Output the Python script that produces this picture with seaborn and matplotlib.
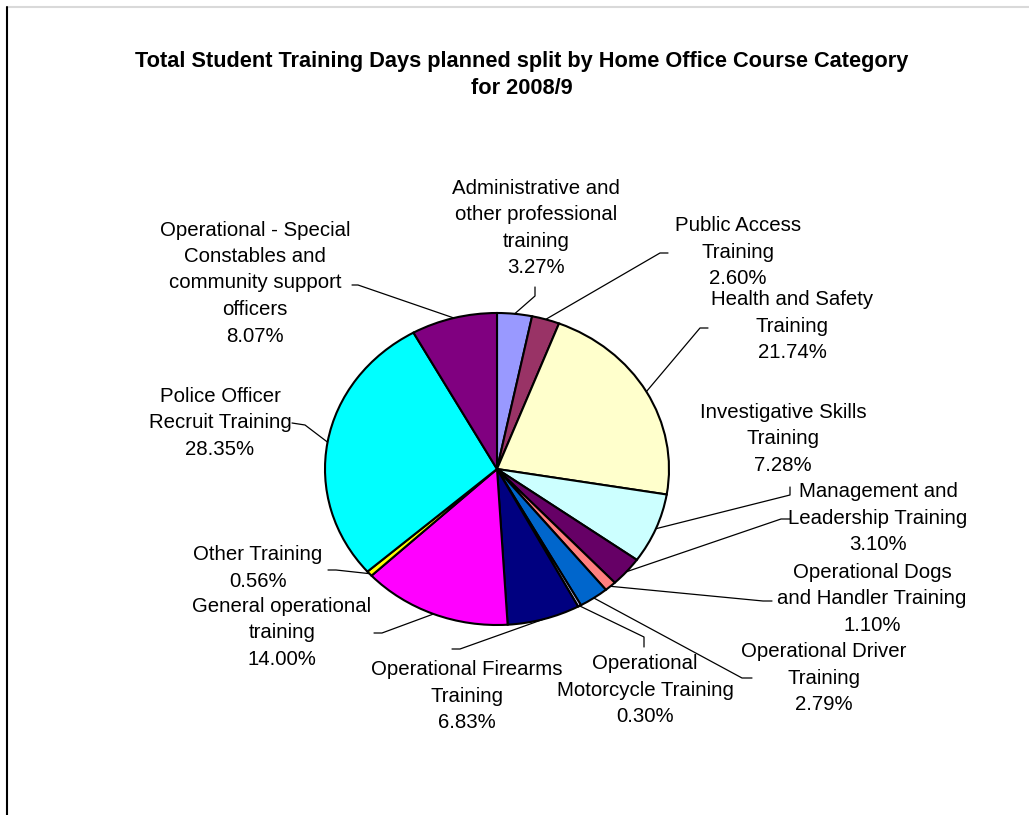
import numpy as np
import matplotlib
matplotlib.use("Agg")
import matplotlib.pyplot as plt
import seaborn as sns
from matplotlib.lines import Line2D

# --- data -------------------------------------------------------------
categories = [
    "Administrative and\nother professional\ntraining",
    "Public Access\nTraining",
    "Health and Safety\nTraining",
    "Investigative Skills\nTraining",
    "Management and\nLeadership Training",
    "Operational Dogs\nand Handler Training",
    "Operational Driver\nTraining",
    "Operational\nMotorcycle Training",
    "Operational Firearms\nTraining",
    "General operational\ntraining",
    "Other Training",
    "Police Officer\nRecruit Training",
    "Operational - Special\nConstables and\ncommunity support\nofficers",
]
shares = [3.27, 2.60, 21.74, 7.28, 3.10, 1.10, 2.79, 0.30, 6.83, 14.00, 0.56, 28.35, 8.07]
colors = ["#9999FF", "#993366", "#FFFFCC", "#CCFFFF", "#660066", "#FF8080",
          "#0066CC", "#CCCCFF", "#000080", "#FF00FF", "#FFFF00", "#00FFFF", "#800080"]

# --- layout (pixels, origin top-left) ---------------------------------
W, H = 1029, 815
label_xy = [(536, 228), (738, 252), (792, 326), (783, 439), (878, 518), (872, 599),
            (824, 678), (645, 690), (467, 696), (282, 633), (258, 568), (220, 423),
            (255, 283)]
# leader line: start near label, elbow, then to the slice edge
leader_pts = [((535, 287), (535, 296)), ((668, 253), (660, 253)), ((708, 328), (700, 328)),
              ((790, 487), (790, 495)), ((790, 519), (781, 519)), ((772, 601), (763, 601)),
              ((752, 678), (742, 678)), ((644, 647), (644, 637)), ((452, 649), (460, 649)),
              ((374, 633), (382, 633)), ((328, 570), (336, 570)), ((292, 423), (305, 425)),
              ((352, 285), (358, 285))]
cx, cy, rx, ry = 497, 469, 172, 156

sns.set_theme(style="white")
plt.rcParams["font.family"] = ["Liberation Sans", "DejaVu Sans"]

fig = plt.figure(figsize=(W / 100, H / 100), dpi=100)
fig.patch.set_facecolor("white")


def fx(x, y):
    return x / W, 1 - y / H


ax = fig.add_axes([(cx - rx) / W, (H - cy - ry) / H, 2 * rx / W, 2 * ry / H])
wedges, _ = ax.pie(shares, colors=colors, startangle=90, counterclock=False,
                   radius=1.0, wedgeprops=dict(edgecolor="black", linewidth=1.5))
ax.set_aspect("auto")
ax.set_xlim(-1, 1)
ax.set_ylim(-1, 1)
ax.axis("off")

fig.canvas.draw()
inv = fig.transFigure.inverted()

for w, name, v, (lx, ly), (p0, p1) in zip(wedges, categories, shares, label_xy, leader_pts):
    ang = np.deg2rad((w.theta1 + w.theta2) / 2)
    edge = inv.transform(ax.transData.transform((np.cos(ang), np.sin(ang))))
    a, b = fx(*p0), fx(*p1)
    fig.add_artist(Line2D([a[0], b[0], edge[0]], [a[1], b[1], edge[1]],
                          transform=fig.transFigure, color="black", lw=0.9))
    fig.text(*fx(lx, ly), f"{name}\n{v:.2f}%", ha="center", va="center",
             fontsize=14.7, linespacing=1.5, color="black")

fig.text(*fx(522, 75),
         "Total Student Training Days planned split by Home Office Course Category\nfor 2008/9",
         ha="center", va="center", fontsize=15.7, fontweight="bold", linespacing=1.42,
         color="black")

# chart frame edges
fig.add_artist(Line2D([7 / W, 1], [1 - 7 / H, 1 - 7 / H], transform=fig.transFigure,
                      color="#D9D9D9", lw=1.5))
fig.add_artist(Line2D([7 / W, 7 / W], [0, 1 - 7 / H], transform=fig.transFigure,
                      color="black", lw=1.5))

fig.savefig("out.png", dpi=100)
